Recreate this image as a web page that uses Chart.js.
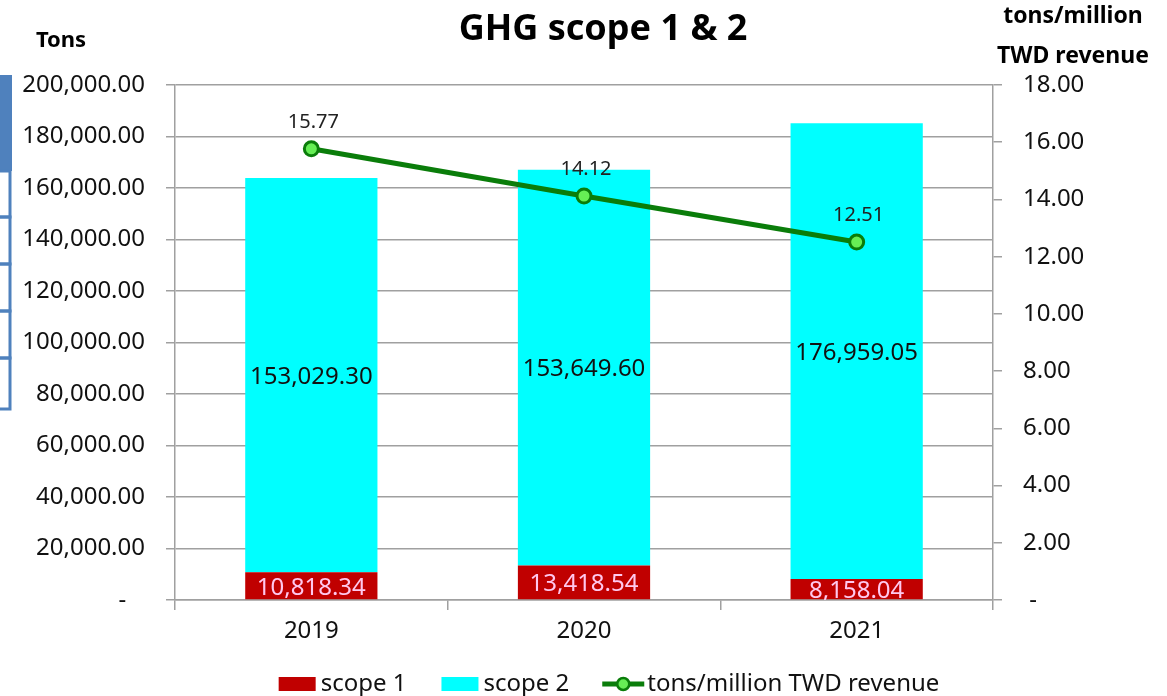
<!DOCTYPE html>
<html>
<head>
<meta charset="utf-8">
<script src="https://cdn.jsdelivr.net/npm/chart.js@4/dist/chart.umd.min.js"></script>
<style>
  body { margin: 0; background: #fff; }
</style>
</head>
<body>
<canvas id="ghgChart" width="1167" height="696"></canvas>
<script>
const years = ["2019", "2020", "2021"];
const scope1 = [10818.34, 13418.54, 8158.04];
const scope2 = [153029.30, 153649.60, 176959.05];
const intensity = [15.77, 14.12, 12.51];
const seriesNames = ["scope 1", "scope 2", "tons/million TWD revenue"];

const FONT = "'Noto Sans', sans-serif";
const RED = "#c00000";
const CYAN = "#00ffff";
const GREEN = "#0a7d0a";
const LIGHT_GREEN = "#66ee55";
const GRID = "#a0a0a0";

const fmt2 = v => v.toLocaleString("en-US", { minimumFractionDigits: 2, maximumFractionDigits: 2 });

// value labels on bars and line points
const valueLabels = {
  id: "valueLabels",
  afterDatasetsDraw(chart) {
    const ctx = chart.ctx;
    const area = chart.chartArea;
    ctx.save();
    ctx.beginPath();
    ctx.rect(area.left, area.top - 60, area.right - area.left, area.bottom - area.top + 60);
    ctx.clip();
    ctx.textAlign = "center";
    ctx.textBaseline = "middle";
    chart.data.datasets.forEach((ds, di) => {
      const meta = chart.getDatasetMeta(di);
      meta.data.forEach((el, i) => {
        const v = ds.data[i];
        if (ds.type === "line") {
          ctx.font = "20px " + FONT;
          ctx.fillStyle = "#222";
          ctx.fillText(v.toFixed(2), el.x + 2, el.y - 27);
        } else {
          ctx.font = "24px " + FONT;
          ctx.fillStyle = di === 0 ? "#ffc8ee" : "#111";
          const cy = (el.y + el.base) / 2 + 2;
          ctx.fillText(fmt2(v), el.x, cy);
        }
      });
    });
    ctx.restore();
  }
};

// titles, legend and the little frame on the left edge
const decorations = {
  id: "decorations",
  afterDraw(chart) {
    const ctx = chart.ctx;
    ctx.save();
    ctx.fillStyle = "#000";
    ctx.textBaseline = "middle";
    ctx.textAlign = "center";
    ctx.font = "bold 36px " + FONT;
    ctx.fillText("GHG scope 1 & 2", 603, 30);
    ctx.font = "bold 22px " + FONT;
    ctx.fillText("Tons", 61, 41);
    ctx.font = "bold 23px " + FONT;
    ctx.fillText("tons/million", 1073, 16);
    ctx.fillText("TWD revenue", 1073, 56);

    // slide frame remnant
    ctx.fillStyle = "#4f81bd";
    ctx.fillRect(0, 75, 12, 96);
    ctx.strokeStyle = "#4f81bd";
    ctx.lineWidth = 3;
    [171, 217, 264, 311, 358].forEach((y, k, arr) => {
      const h = (k < arr.length - 1 ? arr[k + 1] : 409) - y;
      ctx.strokeRect(-3, y, 13, h);
    });

    // legend
    ctx.font = "24px " + FONT;
    ctx.textAlign = "left";
    const cy = 684;
    const w1 = ctx.measureText(seriesNames[0]).width;
    const w2 = ctx.measureText(seriesNames[1]).width;
    const w3 = ctx.measureText(seriesNames[2]).width;
    const total = 37 + 5 + w1 + 35 + 37 + 5 + w2 + 33 + 42 + 3 + w3;
    let x = 609 - total / 2;
    ctx.fillStyle = RED;
    ctx.fillRect(x, cy - 7, 37, 14);
    x += 42;
    ctx.fillStyle = "#111";
    ctx.fillText(seriesNames[0], x, cy);
    x += w1 + 35;
    ctx.fillStyle = CYAN;
    ctx.fillRect(x, cy - 7, 37, 14);
    x += 42;
    ctx.fillStyle = "#111";
    ctx.fillText(seriesNames[1], x, cy);
    x += w2 + 33;
    ctx.strokeStyle = GREEN;
    ctx.lineWidth = 5;
    ctx.beginPath();
    ctx.moveTo(x, cy);
    ctx.lineTo(x + 42, cy);
    ctx.stroke();
    ctx.beginPath();
    ctx.arc(x + 21, cy, 6, 0, Math.PI * 2);
    ctx.fillStyle = LIGHT_GREEN;
    ctx.fill();
    ctx.lineWidth = 2.5;
    ctx.stroke();
    x += 45;
    ctx.fillStyle = "#111";
    ctx.fillText(seriesNames[2], x, cy);
    ctx.restore();
  }
};

const data = {
  labels: years,
  datasets: [
    {
      type: "bar",
      label: seriesNames[0],
      data: scope1,
      backgroundColor: RED,
      yAxisID: "y",
      order: 2,
      barPercentage: 0.485,
      categoryPercentage: 1
    },
    {
      type: "bar",
      label: seriesNames[1],
      data: scope2,
      backgroundColor: CYAN,
      yAxisID: "y",
      order: 2,
      barPercentage: 0.485,
      categoryPercentage: 1
    },
    {
      type: "line",
      label: seriesNames[2],
      data: intensity,
      borderColor: GREEN,
      borderWidth: 5,
      pointRadius: 7,
      pointBorderWidth: 3,
      pointBackgroundColor: LIGHT_GREEN,
      pointBorderColor: GREEN,
      yAxisID: "y1",
      order: 0
    }
  ]
};

const config = {
  data: data,
  options: {
    responsive: false,
    animation: false,
    layout: { padding: { top: 85, left: 0, right: 0, bottom: 0 } },
    plugins: {
      legend: { display: false },
      tooltip: { enabled: false }
    },
    scales: {
      x: {
        stacked: true,
        afterFit: s => { s.height = 96; },
        grid: { offset: true, drawOnChartArea: false, color: GRID, lineWidth: 1.5, tickLength: 10 },
        border: { color: GRID, width: 1.5 },
        ticks: { color: "#111", font: { size: 24, family: FONT }, padding: 7 }
      },
      y: {
        stacked: true,
        position: "left",
        min: 0,
        max: 200000,
        afterFit: s => { s.width = 175; },
        grid: { color: GRID, lineWidth: 1.5, tickLength: 9 },
        border: { color: GRID, width: 1.5 },
        ticks: {
          stepSize: 20000,
          padding: 21,
          color: "#111",
          font: { size: 24, family: FONT },
          callback: v => v === 0 ? "-   " : fmt2(v)
        }
      },
      y1: {
        position: "right",
        min: 0,
        max: 18,
        afterFit: s => { s.width = 174; },
        grid: { drawOnChartArea: false, color: GRID, lineWidth: 1.5, tickLength: 9 },
        border: { color: GRID, width: 1.5 },
        ticks: {
          stepSize: 2,
          padding: 21,
          color: "#111",
          font: { size: 24, family: FONT },
          callback: v => v === 0 ? " -" : v.toFixed(2)
        }
      }
    }
  },
  plugins: [valueLabels, decorations]
};

const ghgChart = new Chart(document.getElementById("ghgChart"), config);
</script>
</body>
</html>
